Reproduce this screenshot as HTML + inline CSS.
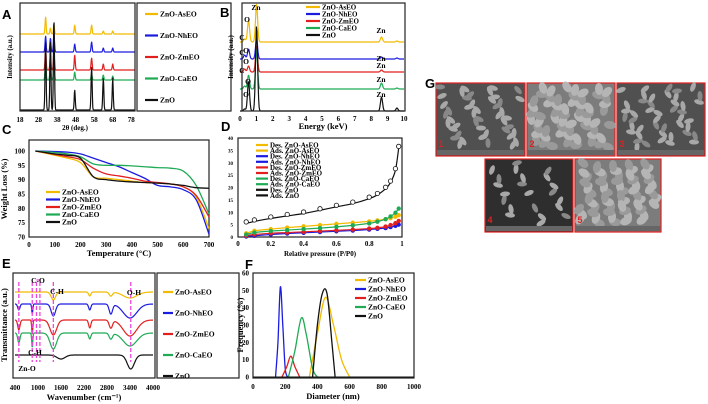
<!DOCTYPE html>
<html><head><meta charset="utf-8"><style>
body{margin:0;background:#fff;}
svg{display:block;font-family:"Liberation Serif",serif;}
.pl{font-family:"Liberation Sans",sans-serif;font-weight:bold;font-size:13px;}
.t{font-size:7px;font-weight:bold;}
.lg{font-size:7.5px;font-weight:bold;}
.ax{font-size:8.5px;font-weight:bold;}
</style></head><body>
<svg id="fig" width="708" height="404" viewBox="0 0 708 404" xmlns="http://www.w3.org/2000/svg"></svg>
<script>
const names=['ZnO-AsEO','ZnO-NhEO','ZnO-ZmEO','ZnO-CaEO','ZnO'];
const colors=['#f2bb00','#1c1ce0','#e21f1f','#1faa55','#111111'];
// XRD (A)
const xrdPos=[31.8,34.4,36.3,47.5,56.6,62.9,68.0];
const xrdBase=[77,59,41,31,1];
const xrdH=[[17,6,9,9,9,3,3],[16,14,19,8,10,4,4],[22,15,18,15,12,6,6],[20,18,20,8,6,5,4],[68,70,92,20,43,32,32]];
const xrdTicks=[18,28,38,48,58,68,78];
// EDX (B)
const edxPos=[0.28,0.52,1.01,8.63,9.57];
const edxBase=[69,52,39,22,0];
const edxH=[[3,22,38,5,1],[4,10,20,2,1],[3,6,26,2,0],[3,14,40,6,1],[2,30,85,14,3]];
const edxTicks=[0,1,2,3,4,5,6,7,8,9,10];
// TGA (C)
const tgaT=[25,100,150,200,250,300,350,400,450,500,550,600,650,700];
const tgaW=[
[100,98.5,97.5,96,91,90.5,90,89.5,89,88.8,88.5,87.5,84,73],
[100,99.8,99.6,99,97.5,96,94.5,92.5,90.5,88,87.5,86.5,83,71],
[100,98.8,98,97,94,92,91.3,90.5,89.5,89,88.5,87.5,84.5,77],
[100,99.5,99,98,95.5,95,95,94.8,94.5,94.2,94,93,88,78],
[100,99,98.5,97.5,91,90,89.5,89.2,89,88.8,88.5,88,87.2,87]];
const tgaXT=[0,100,200,300,400,500,600,700];
const tgaYT=[70,75,80,85,90,95,100];
// BET (D)
const betP=[0.05,0.1,0.2,0.3,0.4,0.5,0.6,0.7,0.8,0.85,0.9,0.93,0.96,0.98];
const betV=[
[1.5,2.5,3.2,3.8,4.3,4.8,5.3,5.8,6.3,6.7,7.2,7.6,8.2,8.8],
[0.2,0.5,1.0,1.4,1.7,2.0,2.3,2.6,3.0,3.3,3.6,4.0,4.5,5.0],
[0.5,1.0,1.5,1.8,2.1,2.4,2.7,3.0,3.4,3.7,4.2,4.8,5.6,6.5],
[1.0,1.8,2.4,2.8,3.2,3.6,4.1,4.7,5.5,6.2,7.2,8.3,9.8,11.5],
[5.5,6.3,7.5,8.5,9.5,10.8,12.2,13.5,15.5,17,19.5,22,27,36]];
const betXT=[0,0.2,0.4,0.6,0.8,1];
const betYT=[0,5,10,15,20,25,30,35,40];
const betLeg=['Des. ZnO-AsEO','Ads. ZnO-AsEO','Des. ZnO-NhEO','Ads. ZnO-NhEO','Des. ZnO-ZmEO','Ads. ZnO-ZmEO','Des. ZnO-CaEO','Ads. ZnO-CaEO','Des. ZnO','Ads. ZnO'];
// FTIR (E)
const irBase=[19,31,47,60,82];
const irDips=[
[[1400,8,80],[2350,4,40],[2900,4,60],[3400,6,250]],
[[500,6,40],[850,10,20],[1400,12,80],[2350,6,40],[2900,10,60],[3400,14,250]],
[[500,10,40],[850,15,20],[1400,15,120],[2350,8,40],[2900,8,60],[3400,16,250]],
[[500,10,40],[850,15,20],[1400,16,120],[2350,6,40],[2900,6,60],[3400,13,250]],
[[1600,4,150],[3420,14,130]]];
const irLines=[500,850,960,1050,1400,3420];
const irTicks=[400,1000,1600,2200,2800,3400,4000];
// DLS (F)
const dlsX=[[350,400,450,500,550,600],[140,155,170,185,200,215],[180,210,235,260,290],[220,260,300,330,370,400],[370,400,430,460,490,510]];
const dlsY=[[0,25,46,30,10,0],[0,20,52,30,5,0],[0,6,12,6,0],[0,15,34,25,5,0],[0,30,48,48,20,0]];
const dlsXT=[0,200,400,600,800,1000];
const dlsYT=[0,10,20,30,40,50,60];

const svg=document.getElementById('fig');const NS='http://www.w3.org/2000/svg';
function el(tag,a,txt){const e=document.createElementNS(NS,tag);for(const k in a)e.setAttribute(k,a[k]);if(txt!==undefined)e.textContent=txt;svg.appendChild(e);return e;}
function lin(d0,d1,r0,r1){return v=>r0+(v-d0)/(d1-d0)*(r1-r0);}
function box(x,y,w,h,n){const e=el('rect',{x:x,y:y,width:w,height:h,fill:'none',stroke:'#222','stroke-width':1.2});}
function txt(x,y,s,cls,n,anchor,extra){const e=el('text',Object.assign({x:x,y:y,class:cls,'text-anchor':anchor||'middle'},extra||{}),s);return e;}
function path(d,c,n,w,dash){const e=el('path',{d:d,fill:'none',stroke:c,'stroke-width':w||1.3,'stroke-linejoin':'round'});if(dash)e.setAttribute('stroke-dasharray',dash);return e;}
function smooth(pts){let d='M'+pts[0][0]+','+pts[0][1];for(let i=0;i<pts.length-1;i++){const p0=pts[i-1]||pts[i],p1=pts[i],p2=pts[i+1],p3=pts[i+2]||p2;d+=' C'+(p1[0]+(p2[0]-p0[0])/6)+','+(p1[1]+(p2[1]-p0[1])/6)+' '+(p2[0]-(p3[0]-p1[0])/6)+','+(p2[1]-(p3[1]-p1[1])/6)+' '+p2[0]+','+p2[1];}return d;}
function peaksPath(x0,x1,sx,sy,base,pos,h,w,sign){let d='';for(let i=0;i<=300;i++){const v=x0+(x1-x0)*i/300;let s=base;pos.forEach((p,j)=>{const ww=Array.isArray(w)?w[j]:w;s+=sign*h[j]*Math.exp(-Math.pow((v-p)/ww,2));});d+=(i?'L':'M')+sx(v).toFixed(1)+','+sy(s).toFixed(1);}return d;}
function legendLine(x,y,c,label,n,len,cls){path('M'+x+','+y+'h'+len,c,n+'-swatch',2.2);txt(x+len+2,y+2.5,label,cls||'lg',n,'start');}

// Panel labels
[['A',2,19],['B',220,17],['C',2,134],['D',221,131],['E',2,268],['F',245,269],['G',425,88]].forEach(p=>txt(p[1],p[2],p[0],'pl','panel-label-'+p[0].toLowerCase(),'start'));

// A
{const sx=lin(18,80,20,135),sy=lin(0,110,111,1);
xrdBase.forEach((b,i)=>path(peaksPath(18,80,sx,sy,b,xrdPos,xrdH[i],0.4,1),colors[i],'xrd-line-'+names[i].toLowerCase(),1.2));
box(20,3,115,108,'xrd-plot-area');
xrdTicks.forEach(t=>txt(sx(t),122,t,'t','xrd-x-tick'));
txt(75,130,'2θ (deg.)','t','xrd-x-title');
txt(12,57,'Intensity (a.u.)','t','xrd-y-title','middle',{transform:'rotate(-90 12 57)'});
box(137,3,94,108,'xrd-legend');
names.forEach((n,i)=>legendLine(145,14+i*21.5,colors[i],n,'xrd-legend-'+n.toLowerCase(),13));}

// B
{const sx=lin(0,10,240,404),sy=lin(0,105,111,6);
edxBase.forEach((b,i)=>path(peaksPath(0,10,sx,sy,b,edxPos,edxH[i],0.09,1),colors[i],'edx-line-'+names[i].toLowerCase(),1.2));
box(242,3,163,108,'edx-plot-area');
edxTicks.forEach(t=>txt(sx(t),121,t,'t','edx-x-tick'));
txt(323,129,'Energy (keV)','ax','edx-x-title');
txt(233,57,'Intensity (a.u.)','t','edx-y-title','middle',{transform:'rotate(-90 233 57)'});
txt(256,10,'Zn','lg','edx-zn-label');
[[247,22],[246,53],[246,64],[248,84],[246,97]].forEach((p,i)=>txt(p[0],p[1],'O','lg','edx-o-label'));
[[242,40],[242,55],[242,73]].forEach(p=>txt(p[0],p[1],'C','lg','edx-c-label'));
[33,61,68,82,97].forEach(y=>txt(381,y,'Zn','lg','edx-zn-label'));
names.forEach((n,i)=>legendLine(306,7+i*7,colors[i],n,'edx-legend-'+n.toLowerCase(),14,'t'));}

// C
{const sx=lin(0,700,29,209),sy=lin(70,100,237,151);
box(29,140,180,97,'tga-plot-area');
tgaW.forEach((w,i)=>path(smooth(tgaT.map((t,j)=>[sx(t),sy(w[j])])),colors[i],'tga-line-'+names[i].toLowerCase(),1.3));
tgaXT.forEach(t=>txt(sx(t),247,t,'t','tga-x-tick'));
tgaYT.forEach(t=>txt(25,sy(t)+2.5,t,'t','tga-y-tick','end'));
txt(119,256,'Temperature (°C)','ax','tga-x-title');
txt(7,189,'Weight Loss (%)','ax','tga-y-title','middle',{transform:'rotate(-90 7 189)'});
names.forEach((n,i)=>legendLine(46,192+i*7.5,colors[i],n,'tga-legend-'+n.toLowerCase(),14,'lg'));}

// D
{const sx=lin(0,1,238,402),sy=lin(0,40,237,138);
box(238,138,164,99,'bet-plot-area');
betV.forEach((v,i)=>{const pts=betP.map((p,j)=>[sx(p),sy(v[j])]);path(smooth(pts),colors[i],'bet-line-'+names[i].toLowerCase(),1.2);
pts.forEach((p,j)=>{const c=el('circle',{cx:p[0],cy:p[1]-(i==4?1.5:0),r:i==4?2.2:1.8,fill:i==4?'#fff':colors[i],stroke:colors[i],'stroke-width':0.8});});});
betXT.forEach(t=>txt(sx(t),246,t,'t','bet-x-tick'));
betYT.forEach(t=>txt(233,sy(t)+2,t,'t','bet-y-tick','end',{style:'font-size:5px'}));
txt(320,256,'Relative pressure (P/P0)','t','bet-x-title');
betLeg.forEach((n,i)=>legendLine(256,145+i*5.6,colors[Math.floor(i/2)],n,'bet-legend-item',12,'t'));}

// E
{const sx=lin(400,4000,15,153),sy=lin(0,105,378,273);
box(13,273,142,105,'ftir-plot-area');
irDips.forEach((d,i)=>{const base=105-irBase[i];path(peaksPath(400,4000,sx,sy,base,d.map(q=>q[0]),d.map(q=>q[1]),d.map(q=>q[2]),-1),colors[i],'ftir-line-'+names[i].toLowerCase(),1.2);});
irLines.forEach(w=>path('M'+sx(w)+',282V362','#ee44dd','ftir-band-line',1.3,'4,2'));
path('M'+sx(960)+',280h'+(sx(1050)-sx(960)),'#ee44dd','ftir-co-bracket',1.3);
txt(38,283,'C-O','lg','ftir-co-label');txt(57,294,'C-H','lg','ftir-ch-label');txt(134,295,'O-H','lg','ftir-oh-label');
txt(35,355,'C-H','lg','ftir-ch2-label');txt(27,371,'Zn-O','lg','ftir-zno-label');
irTicks.forEach(t=>txt(sx(t),390,t,'t','ftir-x-tick'));
txt(84,400,'Wavenumber (cm⁻¹)','ax','ftir-x-title');
txt(7,325,'Transmittance (a.u.)','ax','ftir-y-title','middle',{transform:'rotate(-90 7 325)'});
box(157,273,82,105,'ftir-legend');
names.forEach((n,i)=>legendLine(163,292+i*21,colors[i],n,'ftir-legend-'+n.toLowerCase(),10,'lg'));}

// F
{const sx=lin(0,1000,253,414),sy=lin(0,60,377,273);
box(253,273,161,105,'dls-plot-area');
dlsX.forEach((xs,i)=>{path(smooth(xs.map((x,j)=>[sx(x),sy(dlsY[i][j])])),colors[i],'dls-line-'+names[i].toLowerCase(),1.3);});
path('M253,377H414','#111','dls-baseline',1);
dlsXT.forEach(t=>txt(sx(t),389,t,'t','dls-x-tick'));
dlsYT.forEach(t=>txt(249,sy(t)+2.5,t,'t','dls-y-tick','end'));
txt(333,399,'Diameter (nm)','ax','dls-x-title');
txt(243,325,'Frequency (%)','ax','dls-y-title','middle',{transform:'rotate(-90 243 325)'});
names.forEach((n,i)=>legendLine(355,280+i*9,colors[i],n,'dls-legend-'+n.toLowerCase(),11,'lg'));}

// G SEM images
[[436,83,89,73,'1'],[527,83,88,73,'2'],[617,83,88,73,'3'],[485,159,88,73,'4'],[575,159,86,73,'5']].forEach((s,k)=>{
const light=(k==1||k==4);
const g=el('rect',{x:s[0],y:s[1],width:s[2],height:s[3],fill:light?'#7c7c7c':(k==3?'#2e2e2e':'#505050'),stroke:'#e02020','stroke-width':1.2});
const n=light?60:(k==3?22:45);
for(let j=0;j<n;j++){const cx=s[0]+4+((j*37+k*11)%(s[2]-8)),cy=s[1]+4+((j*23+k*7)%(s[3]-12));const e=el('ellipse',{cx:cx,cy:cy,rx:light?6:5,ry:light?4:2.5,fill:light?(j%2?'#b5b5b5':'#9a9a9a'):(j%3?'#a8a8a8':'#888'),transform:'rotate('+(j*47%180)+' '+cx+' '+cy+')'});}
const bar=el('rect',{x:s[0]+1,y:s[1]+s[3]-6,width:s[2]-2,height:5,fill:'#666'});
txt(s[0]+5,s[1]+s[3]-9,s[4],'pl','sem-label-'+s[4],'middle',{fill:'#e02020',style:'font-size:9px'});});
</script>
</body></html>
